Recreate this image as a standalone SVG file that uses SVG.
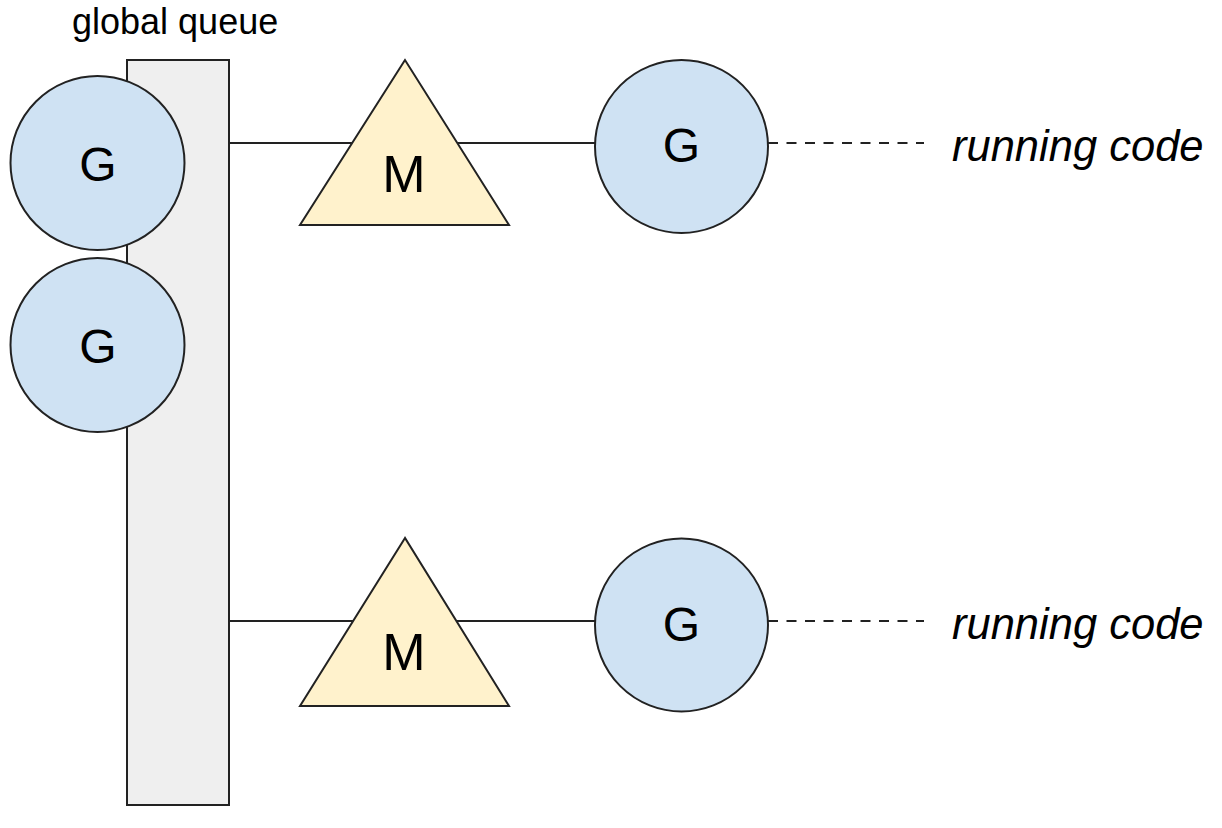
<svg xmlns="http://www.w3.org/2000/svg" width="1222" height="828" viewBox="0 0 1222 828">
<style>
.g{fill:#cfe2f3;stroke:#222;stroke-width:2}
.m{fill:#fff2cc;stroke:#222;stroke-width:2}
.q{fill:#efefef;stroke:#222;stroke-width:2}
.c{stroke:#222;stroke-width:2;fill:none}
.d{stroke:#222;stroke-width:2;fill:none;stroke-dasharray:10 8.5}
.t{font-family:"Liberation Sans",Arial,sans-serif;fill:#000;text-anchor:middle}
.lbl{font-family:"Liberation Sans",Arial,sans-serif;fill:#000}
</style>
<rect width="1222" height="828" fill="#fff"/>
<g id="queue">
<rect class="q" x="127" y="60" width="102" height="745"/>
<text class="lbl" x="72" y="34" font-size="36">global queue</text>
</g>
<g id="connectors">
<line class="c" x1="229" y1="143" x2="596" y2="143"/>
<line class="c" x1="229" y1="621" x2="596" y2="621"/>
<line class="d" x1="768" y1="143" x2="924" y2="143"/>
<line class="d" x1="768" y1="621" x2="924" y2="621"/>
</g>
<g id="gq1"><circle class="g" cx="97.5" cy="163" r="87"/><text class="t" x="98" y="181" font-size="48">G</text></g>
<g id="gq2"><circle class="g" cx="97.5" cy="345" r="87"/><text class="t" x="98" y="363" font-size="48">G</text></g>
<g id="m1"><polygon class="m" points="405,60 300,225 509,225"/><text class="t" x="404" y="192" font-size="52">M</text></g>
<g id="m2"><polygon class="m" points="405,538 300,706 509,706"/><text class="t" x="404" y="670" font-size="52">M</text></g>
<g id="g1"><circle class="g" cx="681.5" cy="146.5" r="86.5"/><text class="t" x="681.5" y="162" font-size="48">G</text></g>
<g id="g2"><circle class="g" cx="681.5" cy="625" r="86.5"/><text class="t" x="681.5" y="641" font-size="48">G</text></g>
<g id="run1"><text class="lbl" x="952" y="161" font-size="43.5" font-style="italic">running code</text></g>
<g id="run2"><text class="lbl" x="952" y="639" font-size="43.5" font-style="italic">running code</text></g>
</svg>
